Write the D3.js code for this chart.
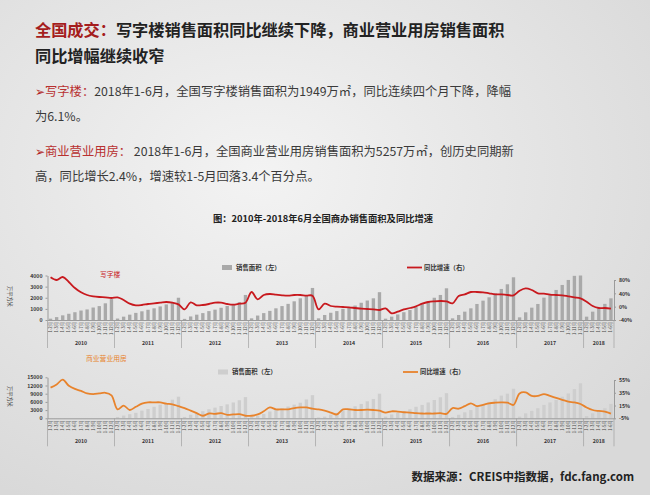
<!DOCTYPE html>
<html>
<head>
<meta charset="utf-8">
<script src="https://cdn.jsdelivr.net/npm/d3@7"></script>
<style>
body { margin: 0; background: #e6e6e6; }
svg { display: block; }
</style>
</head>
<body>
<div id="chart"></div>
<script>
const years = ["2010", "2011", "2012", "2013", "2014", "2015", "2016", "2017", "2018"];
const monthLabels = ["1-2月", "1-3月", "1-4月", "1-5月", "1-6月", "1-7月", "1-8月", "1-9月", "1-10月", "1-11月", "1-12月"];

// 写字楼 销售面积 (万平方米), 累计
const officeArea = [
    120, 260, 420, 560, 700, 850, 950, 1120, 1250, 1500, 1880,
    130, 300, 480, 640, 780, 920, 1050, 1220, 1400, 1550, 2000,
    100, 320, 480, 620, 800, 930, 1100, 1260, 1420, 1600, 2250,
    150, 400, 620, 820, 1050, 1250, 1450, 1680, 1950, 2150, 2880,
    150, 450, 650, 800, 1000, 1150, 1300, 1550, 1750, 1950, 2500,
    120, 300, 500, 700, 900, 1150, 1450, 1700, 2000, 2250, 2850,
    150, 450, 750, 1050, 1440, 1740, 2040, 2400, 2790, 3210, 3840,
    240, 690, 1110, 1440, 2010, 2310, 2700, 3150, 3600, 3970, 4000,
    300, 750, 1050, 1450, 1949
];
// 写字楼 同比增速 (%)
const officeYoY = [
    88, 80, 89, 74, 56, 43, 35, 31, 29, 28, 26,
    28, 20, 9, 4, 5, 8, 10, 12, 14, 12, 7,
    -8, 13, 4, 5, 8, 12, 12, 8, 6, 9, 12,
    44, 22, 35, 38, 36, 34, 33, 35, 35, 33, 33,
    -8, 9, 2, 0, -1, -2, -4, -6, -7, -8, -10,
    -5, -20, -15, -8, -4, 1, 9, 14, 16, 17, 16,
    10, 32, 37, 44, 44, 43, 40, 37, 37, 35, 34,
    48, 55, 50, 40, 39, 36, 35, 34, 31, 28, 25,
    15, 2, -4, -4, -6.1
];
// 商业营业用房 销售面积 (万平方米), 2010 bars not shown
const commArea = [
    null, null, null, null, null, null, null, null, null, null, null,
    500, 1000, 1500, 2000, 2800, 3400, 4200, 5000, 5600, 6800, 7900,
    500, 1300, 1900, 2600, 3300, 3900, 4500, 5100, 5800, 6600, 7760,
    500, 1000, 1600, 2500, 3100, 3700, 4300, 5000, 5700, 6900, 8470,
    300, 600, 1340, 1950, 2800, 3660, 4390, 5250, 6220, 7080, 9000,
    600, 1400, 2000, 2500, 3300, 4200, 4900, 5800, 6700, 7700, 9200,
    500, 1300, 2200, 3000, 4400, 4900, 6000, 7000, 8300, 9000, 10800,
    600, 1800, 2700, 3700, 4900, 5800, 6700, 7900, 9100, 10700, 12800,
    800, 1800, 2800, 3700, 5257
];
// 商业营业用房 同比增速 (%)
const commYoY = [
    43, 48, 55.5, 46, 41, 38, 34, 33, 34, 35, 31,
    9, 15, 8, 13, 18, 20, 20, 20, 18, 17, 14,
    11, 7, 3, -1, 2.5, 2, 3, 0.5, 1, 1.5, -1,
    -1, 1, 6, 12, 9, 9, 9, 11, 12, 12, 10,
    9, 7, 4, 1, 9, 9, 8, 8, 8.5, 8, 7,
    4, 6, 5.5, 4.5, 4, 3, 2.5, 2.5, 2.5, 3, 2,
    11, 10, 14, 18.5, 14, 16, 18.5, 19.5, 20, 19.5, 16,
    34, 35.6, 30, 30, 33, 30, 27, 24, 21, 20, 17.4,
    12, 8, 6.5, 5.5, 2.4
];

const officeLeftTicks = [0, 1000, 2000, 3000, 4000];
const officeRightTicks = [-40, 0, 40, 80];
const commLeftTicks = [0, 3000, 6000, 9000, 12000, 15000];
const commRightTicks = [-5, 15, 35, 55];

const periods = years.flatMap(y => (y === "2018" ? monthLabels.slice(0, 5) : monthLabels).map(m => ({ year: y, month: m })));

const font = "'Noto Sans CJK SC', 'Noto Sans', sans-serif";
const svg = d3.select("#chart").append("svg")
    .attr("width", 650)
    .attr("height", 495)
    .style("font-family", font);

const grad = svg.append("defs").append("radialGradient")
    .attr("id", "bg").attr("cx", "40%").attr("cy", "35%").attr("r", "75%");
grad.append("stop").attr("offset", "0%").attr("stop-color", "#f3f3f3");
grad.append("stop").attr("offset", "100%").attr("stop-color", "#d9d9d9");
svg.append("rect").attr("width", 650).attr("height", 495).attr("fill", "url(#bg)");

// heading
const title = svg.append("text").attr("x", 35).attr("font-size", 16.2).attr("font-weight", 700);
title.append("tspan").attr("y", 36).attr("fill", "#a51d1d").text("全国成交：");
title.append("tspan").attr("fill", "#222").text("写字楼销售面积同比继续下降，商业营业用房销售面积");
svg.append("text").attr("x", 35).attr("y", 62).attr("font-size", 16.2).attr("font-weight", 700)
    .attr("fill", "#222").text("同比增幅继续收窄");

const bodySize = 12.3;
function bullet(y, head, rest) {
    const t = svg.append("text").attr("x", 35).attr("y", y).attr("font-size", bodySize).attr("fill", "#3a3a3a");
    t.append("tspan").attr("fill", "#b12424").text("➢");
    t.append("tspan").attr("fill", "#b83030").text(head);
    t.append("tspan").text(rest);
}
bullet(96, "写字楼：", "2018年1-6月，全国写字楼销售面积为1949万㎡，同比连续四个月下降，降幅");
svg.append("text").attr("x", 35).attr("y", 121).attr("font-size", bodySize).attr("fill", "#3a3a3a").text("为6.1%。");
bullet(156, "商业营业用房：", " 2018年1-6月，全国商业营业用房销售面积为5257万㎡，创历史同期新");
svg.append("text").attr("x", 35).attr("y", 181).attr("font-size", bodySize).attr("fill", "#3a3a3a")
    .text("高，同比增长2.4%，增速较1-5月回落3.4个百分点。");

svg.append("text").attr("x", 323).attr("y", 222).attr("text-anchor", "middle")
    .attr("font-size", 9.3).attr("font-weight", 700).attr("fill", "#222")
    .text("图：2010年-2018年6月全国商办销售面积及同比增速");

function panel(o) {
    const g = svg.append("g");
    const x = d3.scaleBand()
        .domain(d3.range(periods.length))
        .range([47.5, 614])
        .paddingInner(0.45)
        .paddingOuter(0.225);
    const yL = d3.scaleLinear().domain(o.leftDomain).range([o.base, o.leftTop]);
    const yR = d3.scaleLinear().domain(o.rightDomain).range([o.base, o.rightTop]);

    g.selectAll("rect.bar")
        .data(o.area.map((v, i) => ({ v, i })).filter(d => d.v != null))
        .join("rect")
        .attr("class", "bar")
        .attr("x", d => x(d.i))
        .attr("width", x.bandwidth())
        .attr("y", d => yL(d.v))
        .attr("height", d => o.base - yL(d.v))
        .attr("fill", o.barColor);

    const xAxis = g.append("g")
        .attr("transform", `translate(0,${o.base})`)
        .call(d3.axisBottom(x).tickSize(0).tickSizeOuter(0).tickFormat(i => periods[i].month));
    xAxis.select(".domain").attr("stroke", "#9a9a9a");
    xAxis.selectAll("text")
        .attr("transform", "rotate(-90)")
        .attr("x", -2)
        .attr("y", 0)
        .attr("dy", "0.35em")
        .attr("text-anchor", "end")
        .attr("font-size", 4.3)
        .attr("font-family", font)
        .attr("fill", "#444");

    // year separators and labels
    let start = 0;
    const bounds = [];
    years.forEach(y => {
        const n = periods.filter(p => p.year === y).length;
        bounds.push({ year: y, a: 47.5 + x.step() * start, b: 47.5 + x.step() * (start + n) });
        start += n;
    });
    const seps = [bounds[0].a, ...bounds.map(d => d.b)];
    g.selectAll("line.sep").data(seps).join("line")
        .attr("x1", d => d).attr("x2", d => d)
        .attr("y1", o.base).attr("y2", o.base + 28)
        .attr("stroke", "#a0a0a0").attr("stroke-width", 0.7);
    g.selectAll("text.year").data(bounds).join("text")
        .attr("x", d => (d.a + d.b) / 2)
        .attr("y", o.base + 25)
        .attr("text-anchor", "middle")
        .attr("font-size", 5.2)
        .attr("font-weight", 700)
        .attr("fill", "#333")
        .text(d => d.year);

    const left = g.append("g")
        .attr("transform", "translate(47.5,0)")
        .call(d3.axisLeft(yL).tickValues(o.leftTicks).tickSize(2).tickSizeOuter(0).tickPadding(3)
            .tickFormat(d3.format("d")));
    const right = g.append("g")
        .attr("transform", "translate(614,0)")
        .call(d3.axisRight(yR).tickValues(o.rightTicks).tickSize(2).tickSizeOuter(0).tickPadding(3)
            .tickFormat(d => d + "%"));
    [left, right].forEach(a => {
        a.selectAll("path, line").attr("stroke", "#9a9a9a");
        a.selectAll("text").attr("font-size", 5.2).attr("font-weight", 700)
            .attr("font-family", font).attr("fill", "#333");
    });

    const line = d3.line()
        .x(d => x(d.i) + x.bandwidth() / 2)
        .y(d => yR(d.v))
        .curve(d3.curveCatmullRom.alpha(0.5));
    g.append("path")
        .datum(o.yoy.map((v, i) => ({ v, i })))
        .attr("fill", "none")
        .attr("stroke", o.lineColor)
        .attr("stroke-width", 1.8)
        .attr("d", line);

    // unit label
    g.append("text")
        .attr("transform", `translate(8,${o.unitY}) rotate(90)`)
        .attr("font-size", 5.2)
        .attr("fill", "#333")
        .text("万平方米");

    g.append("text")
        .attr("x", o.nameX).attr("y", o.nameY)
        .attr("font-size", 6.8)
        .attr("fill", o.lineColor)
        .text(o.name);

    // legend
    g.append("rect")
        .attr("x", o.legendX).attr("y", o.legendY - 2.5)
        .attr("width", 10).attr("height", 5)
        .attr("fill", o.barColor);
    g.append("text")
        .attr("x", o.legendX + 14).attr("y", o.legendY + 2.3)
        .attr("font-size", 6.4).attr("font-weight", 700).attr("fill", "#333")
        .text("销售面积（左）");
    g.append("line")
        .attr("x1", o.legendX + 185).attr("x2", o.legendX + 200)
        .attr("y1", o.legendY).attr("y2", o.legendY)
        .attr("stroke", o.lineColor).attr("stroke-width", 1.8);
    g.append("text")
        .attr("x", o.legendX + 202).attr("y", o.legendY + 2.3)
        .attr("font-size", 6.4).attr("font-weight", 700).attr("fill", "#333")
        .text("同比增速（右）");
}

panel({
    area: officeArea, yoy: officeYoY,
    leftDomain: [0, 4000], leftTop: 275.5, leftTicks: officeLeftTicks,
    rightDomain: [-40, 80], rightTop: 280, rightTicks: officeRightTicks,
    base: 320, barColor: "#a9a9a9", lineColor: "#c8191e",
    name: "写字楼", nameX: 100, nameY: 276.5, unitY: 286,
    legendX: 222, legendY: 267.5
});

panel({
    area: commArea, yoy: commYoY,
    leftDomain: [0, 15000], leftTop: 377.3, leftTicks: commLeftTicks,
    rightDomain: [-5, 55], rightTop: 380, rightTicks: commRightTicks,
    base: 418.3, barColor: "#cecece", lineColor: "#e8832c",
    name: "商业营业用房", nameX: 86, nameY: 360.5, unitY: 386,
    legendX: 218, legendY: 372
});

svg.append("text")
    .attr("x", 634).attr("y", 481)
    .attr("text-anchor", "end")
    .attr("font-size", 11.5)
    .attr("font-weight", 700)
    .attr("fill", "#222")
    .text("数据来源：CREIS中指数据，fdc.fang.com");
</script>
</body>
</html>
